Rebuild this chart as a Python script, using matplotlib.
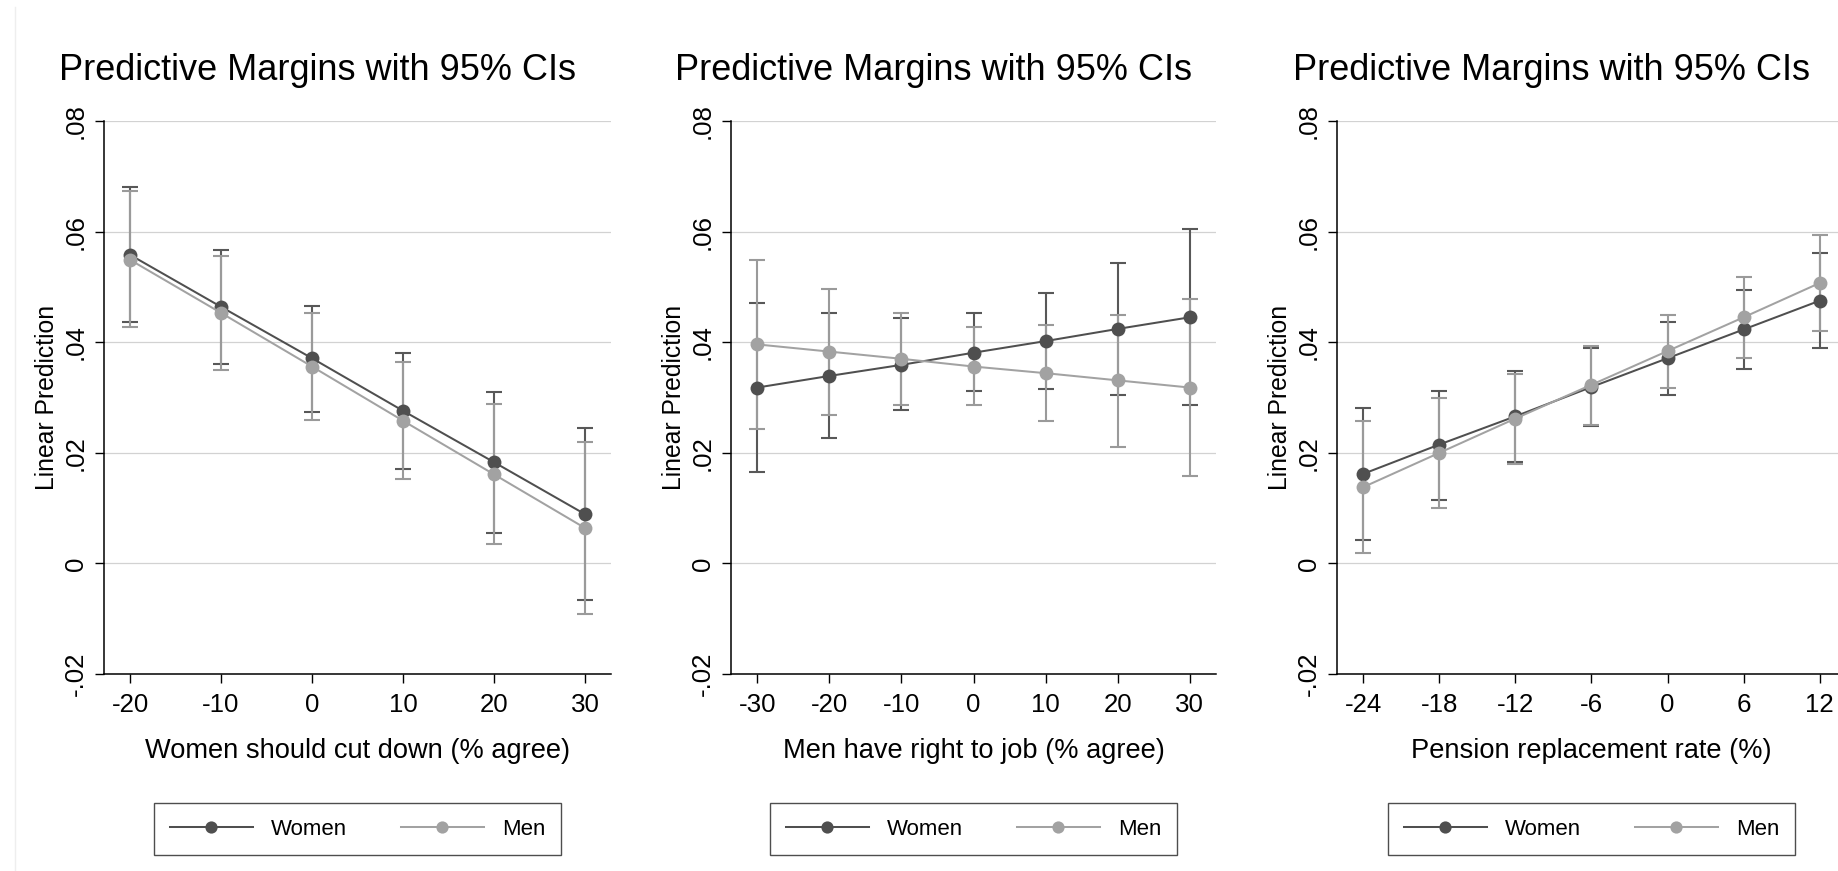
import matplotlib
matplotlib.use('Agg')
import matplotlib.pyplot as plt
from matplotlib.lines import Line2D

plt.rcParams['font.family'] = ['Liberation Sans', 'DejaVu Sans']

# ---------------- data ----------------
TITLE = 'Predictive Margins with 95% CIs'
Y_LABEL = 'Linear Prediction'
Y_TICKS = [-0.02, 0, 0.02, 0.04, 0.06, 0.08]
Y_TICK_LABELS = ['-.02', '0', '.02', '.04', '.06', '.08']
SERIES = ['Women', 'Men']

# Panel 1: Women should cut down
p1_xlabel = 'Women should cut down (% agree)'
p1_x = [-20, -10, 0, 10, 20, 30]
p1_women = [0.0558, 0.0464, 0.0371, 0.0276, 0.0183, 0.0089]
p1_women_lo = [0.0436, 0.0361, 0.0274, 0.0171, 0.0055, -0.0066]
p1_women_hi = [0.0680, 0.0567, 0.0466, 0.0381, 0.0310, 0.0245]
p1_men = [0.0549, 0.0453, 0.0356, 0.0258, 0.0161, 0.0064]
p1_men_lo = [0.0428, 0.0350, 0.0260, 0.0153, 0.0035, -0.0091]
p1_men_hi = [0.0673, 0.0556, 0.0453, 0.0364, 0.0288, 0.0220]

# Panel 2: Men have right to job
p2_xlabel = 'Men have right to job (% agree)'
p2_x = [-30, -20, -10, 0, 10, 20, 30]
p2_women = [0.0318, 0.0339, 0.0359, 0.0381, 0.0402, 0.0424, 0.0445]
p2_women_lo = [0.0165, 0.0226, 0.0278, 0.0311, 0.0316, 0.0304, 0.0287]
p2_women_hi = [0.0471, 0.0453, 0.0443, 0.0453, 0.0489, 0.0543, 0.0604]
p2_men = [0.0396, 0.0383, 0.0370, 0.0356, 0.0344, 0.0331, 0.0318]
p2_men_lo = [0.0243, 0.0269, 0.0287, 0.0286, 0.0257, 0.0211, 0.0158]
p2_men_hi = [0.0548, 0.0496, 0.0453, 0.0427, 0.0431, 0.0450, 0.0478]

# Panel 3: Pension replacement rate
p3_xlabel = 'Pension replacement rate (%)'
p3_x = [-24, -18, -12, -6, 0, 6, 12]
p3_women = [0.0162, 0.0215, 0.0266, 0.0319, 0.0371, 0.0423, 0.0475]
p3_women_lo = [0.0043, 0.0115, 0.0183, 0.0248, 0.0304, 0.0351, 0.0390]
p3_women_hi = [0.0281, 0.0312, 0.0348, 0.0389, 0.0437, 0.0495, 0.0561]
p3_men = [0.0138, 0.0200, 0.0262, 0.0323, 0.0384, 0.0445, 0.0507]
p3_men_lo = [0.0019, 0.0101, 0.0179, 0.0251, 0.0318, 0.0372, 0.0421]
p3_men_hi = [0.0257, 0.0299, 0.0343, 0.0393, 0.0450, 0.0518, 0.0593]

# ---------------- style / layout ----------------
W, H = 1838, 871
DPI = 100
WOMEN_C = '#4f4f4f'
MEN_C = '#a2a2a2'
WOMEN_CI = '#585858'
MEN_CI = '#9a9a9a'
GRID_C = '#d2d2d2'

TOP_PX, BOT_PX = 121, 674
panels = [
    dict(left=104, right=611, xlim=(-22.86, 32.86), x=p1_x, xlabel=p1_xlabel,
         w=p1_women, wl=p1_women_lo, wh=p1_women_hi,
         m=p1_men, ml=p1_men_lo, mh=p1_men_hi),
    dict(left=731, right=1216, xlim=(-33.65, 33.65), x=p2_x, xlabel=p2_xlabel,
         w=p2_women, wl=p2_women_lo, wh=p2_women_hi,
         m=p2_men, ml=p2_men_lo, mh=p2_men_hi),
    dict(left=1337, right=1846, xlim=(-26.08, 14.08), x=p3_x, xlabel=p3_xlabel,
         w=p3_women, wl=p3_women_lo, wh=p3_women_hi,
         m=p3_men, ml=p3_men_lo, mh=p3_men_hi),
]

fig = plt.figure(figsize=(W / DPI, H / DPI), dpi=DPI, facecolor='white')

# faint outer border line on the left
fig.add_artist(Line2D([15 / W, 15 / W], [0, 1 - 7 / H], transform=fig.transFigure,
                      color='#eeeeee', lw=1))

axh = BOT_PX - TOP_PX
for p in panels:
    axw = p['right'] - p['left']
    ax = fig.add_axes([p['left'] / W, 1 - BOT_PX / H, axw / W, axh / H])
    ax.set_facecolor('white')

    x = p['x']
    ax.errorbar(x, p['w'], yerr=[[a - b for a, b in zip(p['w'], p['wl'])],
                                 [b - a for a, b in zip(p['w'], p['wh'])]],
                fmt='none', ecolor=WOMEN_CI, elinewidth=1.5, capsize=5.5,
                capthick=1.5, zorder=3)
    ax.errorbar(x, p['m'], yerr=[[a - b for a, b in zip(p['m'], p['ml'])],
                                 [b - a for a, b in zip(p['m'], p['mh'])]],
                fmt='none', ecolor=MEN_CI, elinewidth=1.5, capsize=5.5,
                capthick=1.5, zorder=4)
    lw_, = ax.plot(x, p['w'], '-o', color=WOMEN_C, lw=1.45, ms=10,
                   markeredgewidth=0, zorder=5, label=SERIES[0])
    lm_, = ax.plot(x, p['m'], '-o', color=MEN_C, lw=1.45, ms=10,
                   markeredgewidth=0, zorder=6, label=SERIES[1])

    ax.set_xlim(*p['xlim'])
    ax.set_ylim(-0.02, 0.08)
    ax.set_xticks(x)
    ax.set_xticklabels([str(v) for v in x], fontsize=18.6)
    ax.set_yticks(Y_TICKS)
    ax.set_yticklabels(Y_TICK_LABELS, fontsize=18.6, rotation=90, va='center')
    ax.tick_params(axis='both', direction='out', length=6.5, width=1.0,
                   color='black')
    ax.tick_params(axis='x', pad=7)
    ax.tick_params(axis='y', pad=5)

    ax.grid(axis='y', color=GRID_C, lw=0.9)
    ax.set_axisbelow(True)
    for s in ['top', 'right']:
        ax.spines[s].set_visible(False)
    for s in ['left', 'bottom']:
        ax.spines[s].set_linewidth(1.1)
        ax.spines[s].set_color('black')

    ax.set_xlabel(p['xlabel'], fontsize=19.6, va='center')
    ax.xaxis.set_label_coords(0.5, (BOT_PX - 751) / axh)
    ax.set_ylabel(Y_LABEL, fontsize=17.8, va='center')
    ax.yaxis.set_label_coords(-57 / axw, 0.5)

    leg = ax.legend(handles=[lw_, lm_], labels=SERIES, loc='center',
                    bbox_to_anchor=(0.5, (BOT_PX - 829) / axh), ncol=2,
                    frameon=True, fancybox=False, edgecolor='#222222',
                    fontsize=16, handlelength=3.77, handletextpad=0.8,
                    columnspacing=2.4, borderpad=0.7, markerscale=0.88)
    leg.get_frame().set_linewidth(1.0)

    cx = (p['left'] + p['right']) / 2 - 40
    fig.text(cx / W, 1 - 70 / H, TITLE, ha='center', va='center', fontsize=26)

fig.savefig('out.png', dpi=DPI, facecolor='white')
